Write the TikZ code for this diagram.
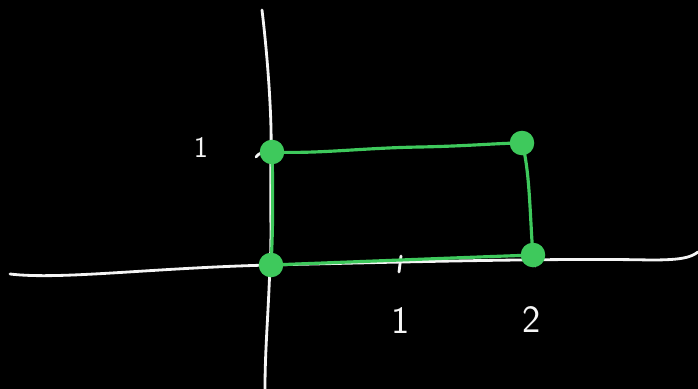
\documentclass[tikz,border=0pt]{standalone}
\usepackage{tikz}
\usetikzlibrary{calc}
\definecolor{chalk}{RGB}{245, 245, 245}
\definecolor{marker}{RGB}{62, 201, 92}

\tikzset{
  corner/.style={circle, fill=marker, inner sep=0pt, minimum size=14pt},
  edge/.style={marker, line width=1.8pt, line cap=round},
  axis/.style={chalk, line width=1.6pt, line cap=round},
  lbl/.style={chalk, font=\sffamily\fontsize{22}{22}\selectfont}
}

\begin{document}
\begin{tikzpicture}[x=0.02cm, y=-0.02cm]
  \fill[black] (0,0) rectangle (698,389);
  \useasboundingbox (0,0) rectangle (698,389);

  % Axes
  \draw[axis] (10,274) .. controls (60,280) and (150,268) .. (270,265)
    .. controls (400,262) and (560,258) .. (650,260)
    .. controls (680,260) and (690,258) .. (698,252);
  \draw[axis] (262,10) .. controls (268,60) and (272,120) .. (271,152)
    .. controls (270,200) and (272,240) .. (270,265)
    .. controls (268,320) and (265,350) .. (265,389);

  % Ticks
  \draw[axis] (256,157) .. controls (259,153) and (263,152) .. (268,151);
  \draw[axis] (401,256) -- (399,272);
  \draw[axis] (531,245) -- (535,266);

  % Corners of the rectangle
  \node[corner] (O) at (271,265) {};
  \node[corner] (A) at (272,152) {};
  \node[corner] (B) at (522,143) {};
  \node[corner] (C) at (533,255) {};

  % Sides
  \draw[edge] (A.center) .. controls (320,154) and (360,148) .. (420,147)
    .. controls (470,146) and (500,143) .. (B.center);
  \draw[edge] (B.center) .. controls (530,170) and (530,220) .. (C.center);
  \draw[edge] (C.center) .. controls (450,258) and (350,262) .. (O.center);
  \draw[edge] (O.center) .. controls (273,230) and (273,190) .. (A.center);

  % Labels
  \node[lbl, font=\sffamily\fontsize{17}{17}\selectfont] (ly) at (201,147) {1};
  \node[lbl] (lx1) at (401,321) {1};
  \node[lbl] (lx2) at (532,320) {2};
\end{tikzpicture}
\end{document}
